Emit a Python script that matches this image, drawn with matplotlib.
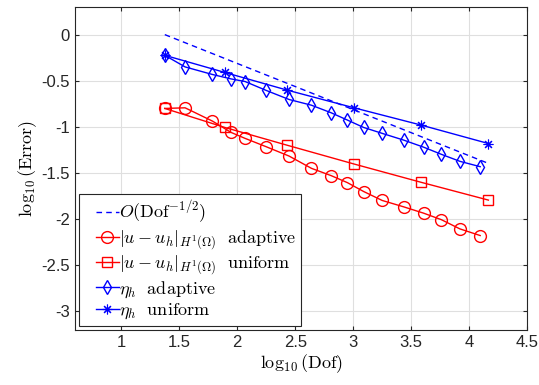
import matplotlib
matplotlib.use("Agg")
import matplotlib.pyplot as plt
from matplotlib.legend_handler import HandlerLine2D
import numpy as np

# ---- data (log10 values) ----
x_adapt = [1.375, 1.55, 1.786, 1.947, 2.067, 2.25, 2.447, 2.64, 2.81, 2.95,
           3.09, 3.25, 3.435, 3.608, 3.76, 3.92, 4.095]
err_adapt = [-0.80, -0.793, -0.937, -1.06, -1.124, -1.215, -1.316, -1.449, -1.528,
             -1.604, -1.70, -1.797, -1.866, -1.935, -2.005, -2.105, -2.177]
eta_adapt = [-0.224, -0.35, -0.432, -0.48, -0.508, -0.605, -0.703, -0.765, -0.847,
             -0.926, -1.006, -1.07, -1.143, -1.22, -1.297, -1.373, -1.431]

x_unif = [1.375, 1.893, 2.426, 3.007, 3.585, 4.166]
err_unif = [-0.80, -1.006, -1.197, -1.402, -1.60, -1.793]
eta_unif = [-0.224, -0.41, -0.60, -0.793, -0.98, -1.18]

ref_x = [1.375, 4.166]
ref_slope = -0.5

xticks = [1, 1.5, 2, 2.5, 3, 3.5, 4, 4.5]
yticks = [0, -0.5, -1, -1.5, -2, -2.5, -3]

plt.rcParams['mathtext.fontset'] = 'cm'
plt.rcParams['axes.unicode_minus'] = False
plt.rcParams['font.family'] = ['Liberation Sans', 'DejaVu Sans']


class ShiftHandler(HandlerLine2D):
    def create_artists(self, legend, orig_handle, xdescent, ydescent, width,
                       height, fontsize, trans):
        shift = width * 0.34
        return super().create_artists(legend, orig_handle, xdescent - shift,
                                       ydescent, width - shift, height,
                                       fontsize, trans)


fig = plt.figure(figsize=(5.39, 3.85), dpi=100)
ax = fig.add_axes([0.139, 0.143, 0.839, 0.839])

ref_y = [ref_slope * (v - ref_x[0]) for v in ref_x]
ax.plot(ref_x, ref_y, '--', color='blue', lw=1.0, dashes=(4, 3),
        label=r'$O(\mathrm{Dof}^{-1/2})$')
ax.plot(x_adapt, err_adapt, '-o', color='red', lw=1.0, ms=8.5, mfc='none', mew=1.0,
        label=r'$|u-u_h|_{H^1(\Omega)}\ \ \mathrm{adaptive}$')
ax.plot(x_unif, err_unif, '-s', color='red', lw=1.0, ms=6.5, mfc='none', mew=1.0,
        label=r'$|u-u_h|_{H^1(\Omega)}\ \ \mathrm{uniform}$')
ax.plot(x_adapt, eta_adapt, '-d', color='blue', lw=1.0, ms=7.2, mfc='none', mew=1.0,
        label=r'$\eta_h\ \ \mathrm{adaptive}$')
ax.plot(x_unif, eta_unif, '-', color='blue', lw=1.0, marker=(8, 2, 0), ms=7, mew=0.8,
        label=r'$\eta_h\ \ \mathrm{uniform}$')

ax.set_xlim(0.6, 4.5)
ax.set_ylim(-3.2, 0.3)
ax.set_xticks(xticks)
ax.set_yticks(yticks)
ax.set_xticklabels([('%g' % t) for t in xticks])
ax.set_yticklabels([('%g' % t) for t in yticks])
ax.tick_params(direction='in', top=True, right=True, labelsize=12, colors='#262626',
               length=3)
for sp in ax.spines.values():
    sp.set_color('#262626')
    sp.set_linewidth(0.8)
ax.grid(True, color='#dfdfdf', lw=0.8)
ax.set_axisbelow(True)

ax.set_xlabel(r'$\log_{10}(\mathrm{Dof})$', fontsize=13, labelpad=2)
ax.set_ylabel(r'$\log_{10}(\mathrm{Error})$', fontsize=13, labelpad=2)

leg = ax.legend(loc='lower left', fontsize=13, frameon=True, fancybox=False,
                edgecolor='#262626', framealpha=1, handlelength=1.97, handletextpad=0.0,
                borderpad=0.25, labelspacing=0.12, borderaxespad=0.22,
                handler_map={plt.Line2D: ShiftHandler()})
leg.get_frame().set_linewidth(0.8)

fig.savefig('out.png', dpi=100)
